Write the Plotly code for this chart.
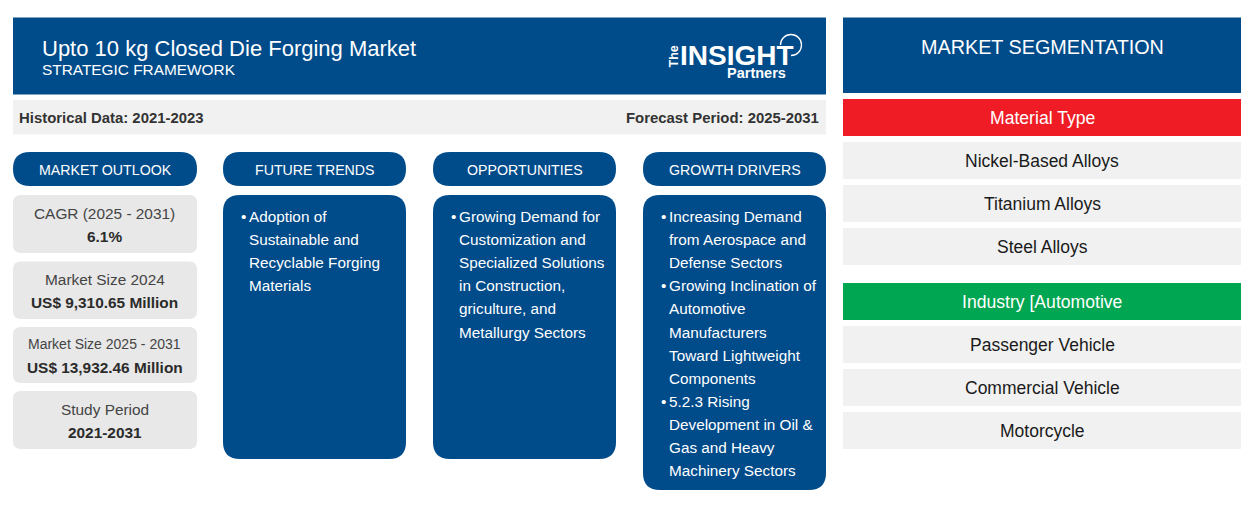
import plotly.graph_objects as go

BLUE = '#004b8a'
GREY = '#f1f1f1'
CARD = '#e8e8e8'
RED = '#ef1c25'
GREEN = '#00a651'
FONT = 'Liberation Sans'

# Textos
title = 'Upto 10 kg Closed Die Forging Market'
subtitle = 'STRATEGIC FRAMEWORK'
historical = 'Historical Data: 2021-2023'
forecast = 'Forecast Period: 2025-2031'
pills = ['MARKET OUTLOOK', 'FUTURE TRENDS', 'OPPORTUNITIES', 'GROWTH DRIVERS']
card_labels = ['CAGR (2025 - 2031)', 'Market Size 2024', 'Market Size 2025 - 2031', 'Study Period']
card_values = ['6.1%', 'US$ 9,310.65 Million', 'US$ 13,932.46 Million', '2021-2031']
trends = [['Adoption of', 'Sustainable and', 'Recyclable Forging', 'Materials']]
opportunities = [['Growing Demand for', 'Customization and', 'Specialized Solutions',
                  'in Construction,', 'griculture, and', 'Metallurgy Sectors']]
drivers = [['Increasing Demand', 'from Aerospace and', 'Defense Sectors'],
           ['Growing Inclination of', 'Automotive', 'Manufacturers', 'Toward Lightweight', 'Components'],
           ['5.2.3 Rising', 'Development in Oil &', 'Gas and Heavy', 'Machinery Sectors']]
seg_title = 'MARKET SEGMENTATION'
material_head = 'Material Type'
material_items = ['Nickel-Based Alloys', 'Titanium Alloys', 'Steel Alloys']
industry_head = 'Industry [Automotive'
industry_items = ['Passenger Vehicle', 'Commercial Vehicle', 'Motorcycle']

fig = go.Figure()
shapes = []


def box(x0, y0, x1, y1, color, r=0):
    if r == 0:
        shapes.append(dict(type='rect', x0=x0, y0=y0, x1=x1, y1=y1, fillcolor=color, line_width=0, layer='below'))
        return
    path = (f'M {x0+r} {y0} L {x1-r} {y0} Q {x1} {y0} {x1} {y0+r} L {x1} {y1-r} Q {x1} {y1} {x1-r} {y1} '
            f'L {x0+r} {y1} Q {x0} {y1} {x0} {y1-r} L {x0} {y0+r} Q {x0} {y0} {x0+r} {y0} Z')
    shapes.append(dict(type='path', path=path, fillcolor=color, line_width=0, layer='below'))


def text(x, y, s, size, color='white', anchor='center', bold=False, angle=0, family=FONT):
    if bold:
        s = f'<b>{s}</b>'
    fig.add_annotation(x=x, y=y, text=s, showarrow=False, xanchor=anchor, yanchor='middle', textangle=angle,
                       font=dict(family=family, size=size, color=color), borderpad=0, borderwidth=0)


# Cabecera
box(13, 17.5, 826, 94.5, BLUE)
text(42, 48, title, 22, anchor='left')
text(42, 69.5, subtitle, 15.4, anchor='left')
box(13, 100, 826, 134.5, GREY)
text(19, 117.5, historical, 14.9, '#333333', 'left', True)
text(819, 117.5, forecast, 14.9, '#333333', 'right', True)

# Logo
text(673, 56.5, 'The', 12.5, angle=-90, bold=True)
text(680, 55, 'INSIGHT', 28, anchor='left', bold=True)
text(786, 73, 'Partners', 14.5, anchor='right', bold=True)
shapes.append(dict(type='path',
                   path='M 780.5 45 C 780.5 39.2 785.2 34.5 791 34.5 C 796.8 34.5 801.5 39.2 801.5 45 '
                        'C 801.5 50.8 796.8 55.5 791 55.5',
                   line=dict(color='white', width=1.3)))

# Columnas
cols = [(13, 197), (223, 406), (433, 616), (643, 826)]
for (x0, x1), label in zip(cols, pills):
    box(x0, 152, x1, 186, BLUE, 17)
    text((x0 + x1) / 2, 169.5, label, 14.2)

# Tarjetas de market outlook
card_rows = [(195, 253), (261.5, 319), (327, 383), (391, 449)]
for (y0, y1), label, value in zip(card_rows, card_labels, card_values):
    box(13, y0, 197, y1, CARD, 8)
    size = 14 if label == 'Market Size 2025 - 2031' else 15.4
    text(104.5, (y0 + y1) / 2 - 11, label, size, '#444444')
    text(104.5, (y0 + y1) / 2 + 12, value, 15.4, '#2b2b2b', bold=True)

# Listas
bottoms = [459, 459, 490]
for (x0, x1), bottom, items in zip(cols[1:], bottoms, [trends, opportunities, drivers]):
    box(x0, 195, x1, bottom, BLUE, 17)
    y = 216.5
    for item in items:
        text(x0 + 20, y, '•', 15.3, anchor='center')
        for line in item:
            text(x0 + 26, y, line, 15.3, anchor='left')
            y += 23.1

# Segmentacion
box(843, 17.5, 1241, 93, BLUE)
text(1042, 46.5, seg_title, 19.8)
for top, head, color, items in [(99, material_head, RED, material_items),
                                (283, industry_head, GREEN, industry_items)]:
    box(843, top, 1241, top + 37, color)
    text(1042, top + 18.5, head, 17.6)
    for i, item in enumerate(items):
        y0 = top + 43 + i * 43
        box(843, y0, 1241, y0 + 37, GREY)
        text(1042, y0 + 18.5, item, 17.5, '#1a1a1a')

fig.update_layout(width=1254, height=530, margin=dict(l=0, r=0, t=0, b=0), plot_bgcolor='white',
                  paper_bgcolor='white', shapes=shapes, showlegend=False)
fig.update_xaxes(range=[0, 1254], visible=False, fixedrange=True)
fig.update_yaxes(range=[530, 0], visible=False, fixedrange=True)

fig.write_html('out.html', config={'displayModeBar': False},
               post_script="document.body.style.margin='0';")
